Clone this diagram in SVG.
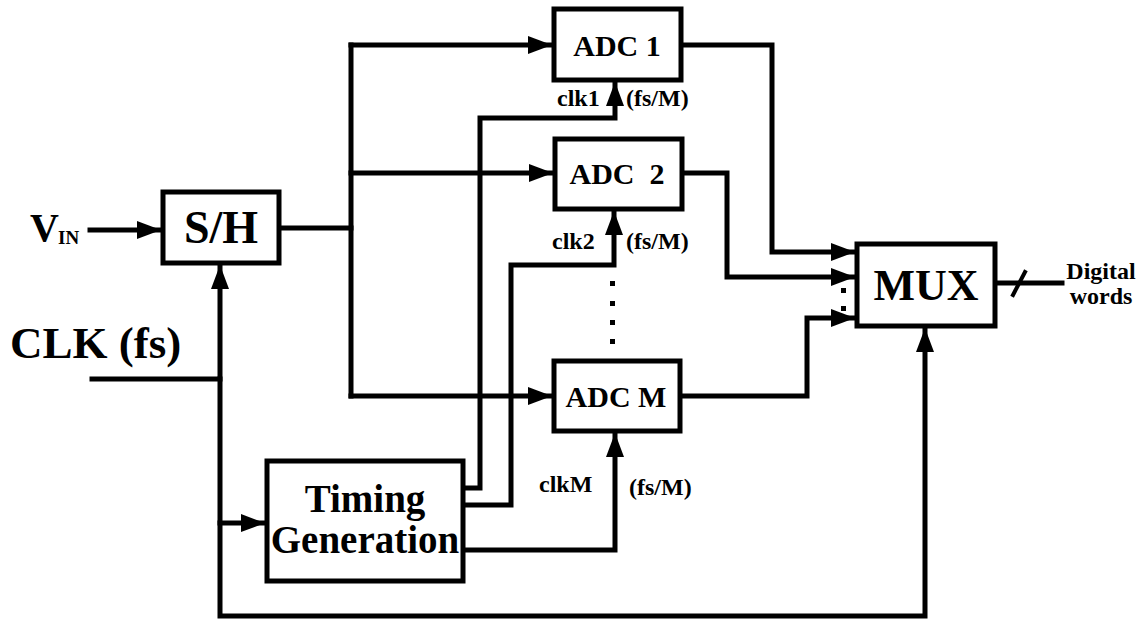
<svg xmlns="http://www.w3.org/2000/svg" width="1147" height="621" viewBox="0 0 1147 621">
<style>
.box{fill:#fff;stroke:#000;stroke-width:5}
.w{fill:none;stroke:#000;stroke-width:5;stroke-linejoin:miter;stroke-linecap:square}
.a{marker-end:url(#ah)}
text{font-family:"Liberation Serif","Times New Roman",serif;font-weight:bold;fill:#000}
.big{font-size:44px}
.mid{font-size:30px}
.sm{font-size:24px}
.dot{fill:#000}
</style>
<defs>
<marker id="ah" markerUnits="userSpaceOnUse" markerWidth="24" markerHeight="18" refX="22" refY="9" orient="auto">
<path d="M0,0 L24,9 L0,18 Z" fill="#000"/>
</marker>
</defs>
<rect width="1147" height="621" fill="#fff"/>
<g id="connectors">
<path class="w a" d="M90,230 H159"/>
<path class="w" d="M280,228 H351"/>
<path class="w" d="M351,45 V396"/>
<path class="w a" d="M351,45 H550"/>
<path class="w a" d="M351,173 H551"/>
<path class="w a" d="M351,396 H550"/>
<path class="w a" d="M92,379 H220 V267"/>
<path class="w a" d="M220,379 V616 H925 V330"/>
<path class="w a" d="M220,523 H263"/>
<path class="w a" d="M465,488 H480 V118 H615 V84"/>
<path class="w a" d="M465,505 H511 V265 H614 V213"/>
<path class="w a" d="M465,550 H615 V435"/>
<path class="w a" d="M683,45 H772 V252 H853"/>
<path class="w a" d="M684,173 H727 V277 H853"/>
<path class="w a" d="M682,396 H807 V318 H853"/>
<path class="w" d="M997,283 H1062"/>
<path class="w" d="M1013,295 L1025,272" style="stroke-width:4"/>
<rect class="dot" x="610" y="281" width="5" height="5"/>
<rect class="dot" x="610" y="301" width="5" height="5"/>
<rect class="dot" x="610" y="320" width="5" height="5"/>
<rect class="dot" x="610" y="339" width="5" height="5"/>
<rect class="dot" x="841" y="288" width="5" height="5"/>
<rect class="dot" x="841" y="306" width="5" height="5"/>
</g>
<g id="vin">
<text x="30" y="241" style="font-size:40px">V</text>
<text x="58" y="244" style="font-size:19px">IN</text>
</g>
<g id="clk">
<text x="10" y="358" style="font-size:45px">CLK (fs)</text>
</g>
<g id="sh">
<rect class="box" x="163" y="192" width="116" height="71"/>
<text x="221" y="243" style="font-size:46px" text-anchor="middle">S/H</text>
</g>
<g id="adc1">
<rect class="box" x="554" y="9" width="127" height="71"/>
<text x="617" y="56" class="mid" text-anchor="middle">ADC 1</text>
<text x="557" y="106" class="sm">clk1</text>
<text x="626" y="106" class="sm">(fs/M)</text>
</g>
<g id="adc2">
<rect class="box" x="555" y="139" width="127" height="70"/>
<text x="617" y="184" class="mid" text-anchor="middle" xml:space="preserve">ADC  2</text>
<text x="552" y="249" class="sm">clk2</text>
<text x="626" y="249" class="sm">(fs/M)</text>
</g>
<g id="adcm">
<rect class="box" x="554" y="361" width="126" height="70"/>
<text x="616" y="407" class="mid" text-anchor="middle">ADC M</text>
<text x="539" y="492" class="sm">clkM</text>
<text x="629" y="495" class="sm">(fs/M)</text>
</g>
<g id="timing">
<rect class="box" x="267" y="461" width="196" height="120"/>
<text x="365" y="512" style="font-size:39px" text-anchor="middle">Timing</text>
<text x="365" y="553" style="font-size:39px" text-anchor="middle">Generation</text>
</g>
<g id="mux">
<rect class="box" x="857" y="244" width="138" height="82"/>
<text x="926" y="300" style="font-size:44px" text-anchor="middle">MUX</text>
</g>
<g id="out">
<text x="1101" y="279" class="sm" text-anchor="middle">Digital</text>
<text x="1101" y="304" class="sm" text-anchor="middle">words</text>
</g>
</svg>
